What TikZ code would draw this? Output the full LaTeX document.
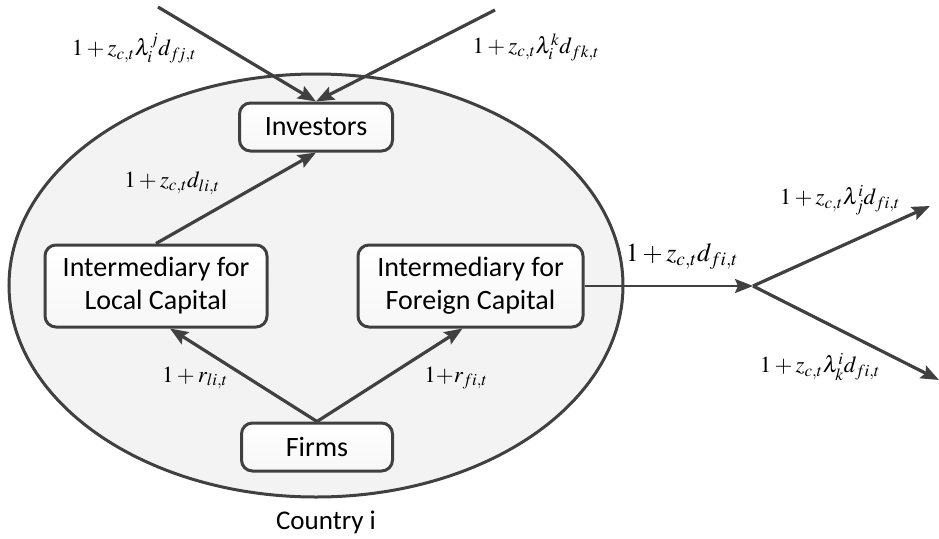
\documentclass[tikz,border=0pt]{standalone}
\usepackage{mathptmx}
\usepackage{fontspec}
\setmainfont{Carlito}
\usetikzlibrary{arrows.meta,shapes.geometric,calc}
\definecolor{ink}{HTML}{404040}
\definecolor{inside}{HTML}{F3F3F3}
\tikzset{
  box/.style={draw=ink, line width=3pt, rounded corners=11pt, top color=white, bottom color=inside!70,
    align=center, inner sep=0pt, font=\fontsize{28}{33}\selectfont},
  flow/.style={draw=ink, line width=3.2pt, -{Stealth[length=18pt,width=14pt,inset=3pt]}},
  lab/.style={inner sep=0pt, font=\fontsize{23}{28}\selectfont},
  biglab/.style={inner sep=0pt, font=\fontsize{26}{30}\selectfont}
}
\begin{document}
\begin{tikzpicture}[x=1pt,y=-1pt]
\useasboundingbox (0,0) rectangle (939,538);
\node[ellipse, draw=ink, line width=3pt, fill=inside, minimum width=614pt, minimum height=423pt, inner sep=0pt] (country) at (316,285.5) {};
\node[box, minimum width=153pt, minimum height=48pt] (inv) at (316,127) {Investors};
\node[box, minimum width=222pt, minimum height=82pt] (loc) at (156,286) {Intermediary for\\Local Capital};
\node[box, minimum width=225pt, minimum height=82pt] (for) at (470.5,286) {Intermediary for\\Foreign Capital};
\node[box, minimum width=151pt, minimum height=48pt] (firms) at (317,447) {Firms};
\node[inner sep=0pt, font=\fontsize{27}{32}\selectfont] (ctry) at (326,522) {Country i};
\coordinate (s1) at (158,7);
\coordinate (s2) at (495,10);
\coordinate (j) at (753,286);
\coordinate (e1) at (930,206);
\coordinate (e2) at (939,380);
\draw[flow] (s1) -- (inv.north);
\draw[flow] (s2) -- (inv.north);
\draw[flow] (loc.north) -- (inv.south);
\draw[flow] (firms.north) -- ([xshift=14pt]loc.south);
\draw[flow] (firms.north) -- ([xshift=-8pt]for.south);
\draw[flow, line width=2.6pt] (for.east) -- (j);
\draw[flow] (j) -- (e1);
\draw[flow] (j) -- (e2);
\node[lab] (l1) at (134,48) {$1+z_{c,t}\lambda_i^j d_{f\!j,t}$};
\node[lab] (l2) at (536,47) {$1+z_{c,t}\lambda_i^k d_{fk,t}$};
\node[lab] (l3) at (172,183) {$1+z_{c,t}d_{li,t}$};
\node[lab] (l4) at (195,378) {$1 + r_{li,t}$};
\node[lab] (l5) at (456,378) {$1{+}r_{fi,t}$};
\node[biglab] (l6) at (682,257) {$1+z_{c,t}d_{fi,t}$};
\node[lab] (l7) at (840,200) {$1+z_{c,t}\lambda_j^i d_{fi,t}$};
\node[lab] (l8) at (820,367) {$1+z_{c,t}\lambda_k^i d_{fi,t}$};
\end{tikzpicture}
\end{document}
